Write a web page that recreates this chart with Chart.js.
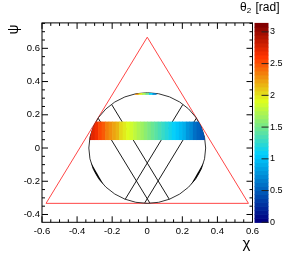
<!DOCTYPE html>
<html>
<head>
<meta charset="utf-8">
<script src="https://cdn.jsdelivr.net/npm/chart.js@4.4.1/dist/chart.umd.min.js"></script>
<style>
  html, body { margin: 0; padding: 0; background: #fff; }
  canvas { display: block; }
</style>
</head>
<body>
<canvas id="c" width="299" height="255"></canvas>
<script>
// axis ranges
const xRange = [-0.6, 0.6];
const yRange = [-0.447, 0.753];
const zRange = [0, 3.1416];

const xTicks = [-0.6, -0.4, -0.2, 0, 0.2, 0.4, 0.6];
const yTicks = [-0.4, -0.2, 0, 0.2, 0.4, 0.6];
const zTicks = [0, 0.5, 1, 1.5, 2, 2.5, 3];

// red triangle (closed)
const triX = [-0.577, 0.577, 0, -0.577];
const triY = [-0.333, -0.333, 0.667, -0.333];

// black chords inside the circle
const chordX0 = [-0.203, 0.203, -0.280, 0.280];
const chordY0 = [0.262, 0.262, 0.180, 0.180];
const chordX1 = [0.126, -0.126, 0.016, -0.016];
const chordY1 = [-0.309, -0.309, -0.333, -0.333];

const circleR = 0.333;

// theta2 band: column centres and values
const binW = 0.02;
const bandX = [-0.33, -0.31, -0.29, -0.27, -0.25, -0.23, -0.21, -0.19, -0.17, -0.15, -0.13, -0.11,
  -0.09, -0.07, -0.05, -0.03, -0.01, 0.01, 0.03, 0.05, 0.07, 0.09, 0.11, 0.13, 0.15, 0.17,
  0.19, 0.21, 0.23, 0.25, 0.27, 0.29, 0.31, 0.33];
const bandTheta = [2.85, 2.76, 2.66, 2.56, 2.47, 2.38, 2.30, 2.22, 2.14, 2.07, 2.00, 1.93,
  1.86, 1.80, 1.73, 1.67, 1.60, 1.54, 1.48, 1.42, 1.36, 1.29, 1.23, 1.16, 1.09, 1.02,
  0.95, 0.88, 0.80, 0.71, 0.62, 0.53, 0.45, 0.38];
const bandY = [0.048, 0.159];

// small strip at the top of the circle
const capX = [-0.06, -0.04, -0.02, 0, 0.02, 0.04];
const capTheta = [2.3, 2.0, 1.75, 1.45, 1.1, 0.75];
const capY = [0.32, 0.34];

// dark segments on the circle edge (degrees)
const darkFrom = [195, 318];
const darkTo = [222, 345];

// ROOT rainbow palette
const stops = [0, 0.34, 0.61, 0.84, 1];
const stR = [0, 0, 0.87, 1, 0.51];
const stG = [0, 0.81, 1, 0.2, 0];
const stB = [0.51, 1, 0.12, 0, 0];
const nCol = 50;
const palette = [];
for (let i = 0; i < nCol; i++) {
  const t = i / (nCol - 1);
  let k = 0;
  while (k < stops.length - 2 && t > stops[k + 1]) k++;
  const f = (t - stops[k]) / (stops[k + 1] - stops[k]);
  const c = a => Math.round(255 * (a[k] + f * (a[k + 1] - a[k])));
  palette.push(`rgb(${c(stR)},${c(stG)},${c(stB)})`);
}
function zColor(v) {
  const i = Math.floor((v - zRange[0]) / (zRange[1] - zRange[0]) * nCol);
  return palette[Math.max(0, Math.min(nCol - 1, i))];
}

const FONT = "'Liberation Sans', Arial, sans-serif";
const fmt = v => {
  const s = (Math.round(v * 10) / 10).toString();
  return s === "-0" ? "0" : s;
};

function circlePath(ctx, ch) {
  const x = ch.scales.x, y = ch.scales.y;
  const cx = x.getPixelForValue(0), cy = y.getPixelForValue(0);
  const rx = x.getPixelForValue(circleR) - cx, ry = cy - y.getPixelForValue(circleR);
  ctx.beginPath();
  ctx.ellipse(cx, cy, rx, ry, 0, 0, Math.PI * 2);
  return { cx, cy, rx, ry };
}

function drawCells(ctx, ch, xs, vals, yLoHi) {
  const x = ch.scales.x, y = ch.scales.y;
  const top = y.getPixelForValue(yLoHi[1]), bot = y.getPixelForValue(yLoHi[0]);
  xs.forEach((c, i) => {
    const x0 = x.getPixelForValue(c - binW / 2), x1 = x.getPixelForValue(c + binW / 2);
    ctx.fillStyle = zColor(vals[i]);
    ctx.fillRect(x0, top, x1 - x0 + 0.6, bot - top);
  });
}

const overlay = {
  id: "overlay",
  afterDatasetsDraw(ch) {
    const ctx = ch.ctx;
    const x = ch.scales.x, y = ch.scales.y, z = ch.scales.z;
    const a = ch.chartArea;

    // circle
    ctx.save();
    circlePath(ctx, ch);
    ctx.strokeStyle = "#333";
    ctx.lineWidth = 1;
    ctx.stroke();

    // dark segments
    const g = circlePath(ctx, ch);
    ctx.fillStyle = "#000";
    darkFrom.forEach((d0, i) => {
      const r0 = -d0 * Math.PI / 180, r1 = -darkTo[i] * Math.PI / 180;
      ctx.beginPath();
      ctx.ellipse(g.cx, g.cy, g.rx, g.ry, 0, r0, r1, true);
      ctx.closePath();
      ctx.fill();
    });

    // histogram cells clipped to the circle
    circlePath(ctx, ch);
    ctx.clip();
    drawCells(ctx, ch, bandX, bandTheta, bandY);
    drawCells(ctx, ch, capX, capTheta, capY);
    ctx.restore();

    // frame
    ctx.save();
    ctx.strokeStyle = "#000";
    ctx.lineWidth = 1;
    ctx.strokeRect(a.left, a.top, a.right - a.left, a.bottom - a.top);

    // inward ticks on all four sides
    ctx.beginPath();
    for (let i = 0; i < xTicks.length; i++) {
      for (let k = -3; k < 4; k++) {
        const v = xTicks[i] + k * 0.05;
        if (v < xRange[0] - 1e-6 || v > xRange[1] + 1e-6) continue;
        if (k !== 0 && Math.abs(k) > 0 && (k < 0 ? i > 0 : i < xTicks.length - 1) && k < 0) continue;
        const len = k === 0 ? 6 : 3;
        const px = x.getPixelForValue(v);
        ctx.moveTo(px, a.bottom); ctx.lineTo(px, a.bottom - len);
        ctx.moveTo(px, a.top); ctx.lineTo(px, a.top + len);
      }
    }
    for (let i = 0; i < yTicks.length; i++) {
      for (let k = -3; k < 4; k++) {
        const v = yTicks[i] + k * 0.05;
        if (v < yRange[0] - 1e-6 || v > yRange[1] + 1e-6) continue;
        if (k < 0 && i > 0) continue;
        const len = k === 0 ? 6 : 3;
        const py = y.getPixelForValue(v);
        ctx.moveTo(a.left, py); ctx.lineTo(a.left + len, py);
        ctx.moveTo(a.right, py); ctx.lineTo(a.right - len, py);
      }
    }
    ctx.stroke();

    // colour bar
    const pl = a.right + 2, pw = 14;
    for (let i = 0; i < nCol; i++) {
      const v0 = zRange[0] + i * (zRange[1] - zRange[0]) / nCol;
      const v1 = zRange[0] + (i + 1) * (zRange[1] - zRange[0]) / nCol;
      const y0 = z.getPixelForValue(v0), y1 = z.getPixelForValue(v1);
      ctx.fillStyle = palette[i];
      ctx.fillRect(pl, y1, pw, y0 - y1 + 0.6);
    }
    ctx.beginPath();
    zTicks.forEach(v => {
      const py = z.getPixelForValue(v);
      ctx.moveTo(pl + pw, py); ctx.lineTo(pl + pw - 7, py);
    });
    ctx.strokeStyle = "#222";
    ctx.stroke();

    // titles
    ctx.fillStyle = "#000";
    ctx.textBaseline = "alphabetic";
    ctx.font = `15px ${FONT}`;
    ctx.textAlign = "center";
    ctx.fillText("χ", 246.5, 248);

    ctx.save();
    ctx.translate(14, 29.5);
    ctx.rotate(-Math.PI / 2);
    ctx.font = `14px ${FONT}`;
    ctx.textBaseline = "middle";
    ctx.fillText("ψ", 0, 0);
    ctx.restore();

    ctx.textAlign = "left";
    let tx = 240;
    ctx.font = `12px ${FONT}`;
    ctx.fillText("θ", tx, 10.5);
    tx += ctx.measureText("θ").width;
    ctx.font = `8px ${FONT}`;
    ctx.fillText("2", tx, 13);
    tx += ctx.measureText("2").width + 1;
    ctx.font = `12px ${FONT}`;
    ctx.fillText(" [rad]", tx, 10.5);
    ctx.restore();
  }
};

const line = (xs, ys) => xs.map((v, i) => ({ x: v, y: ys[i] }));
const datasets = [{
  data: line(triX, triY),
  showLine: true, borderColor: "rgb(255,70,70)", borderWidth: 1, pointRadius: 0
}];
chordX0.forEach((v, i) => {
  datasets.push({
    data: [{ x: v, y: chordY0[i] }, { x: chordX1[i], y: chordY1[i] }],
    showLine: true, borderColor: "#1a1a1a", borderWidth: 1, pointRadius: 0
  });
});

const tickFont = { family: FONT, size: 9.5 };
new Chart(document.getElementById("c"), {
  type: "scatter",
  data: { datasets },
  options: {
    responsive: false,
    animation: false,
    devicePixelRatio: 1,
    layout: { padding: { top: 18.3, left: 0, right: 0, bottom: 0 } },
    plugins: { legend: { display: false }, tooltip: { enabled: false } },
    scales: {
      x: {
        type: "linear", min: xRange[0], max: xRange[1],
        grid: { display: false, drawTicks: false }, border: { display: false },
        ticks: { font: tickFont, color: "#000", padding: 3, maxRotation: 0, autoSkip: false, callback: fmt },
        afterBuildTicks: s => { s.ticks = xTicks.map(v => ({ value: v })); },
        afterFit: s => { s.height = 32.7; }
      },
      y: {
        type: "linear", position: "left", min: yRange[0], max: yRange[1],
        grid: { display: false, drawTicks: false }, border: { display: false },
        ticks: { font: tickFont, color: "#000", padding: 2, autoSkip: false, callback: fmt },
        afterBuildTicks: s => { s.ticks = yTicks.map(v => ({ value: v })); },
        afterFit: s => { s.width = 42; }
      },
      z: {
        type: "linear", axis: "y", position: "right", min: zRange[0], max: zRange[1],
        grid: { display: false, drawTicks: false }, border: { display: false },
        ticks: { font: { family: FONT, size: 9 }, color: "#000", padding: 17.5, autoSkip: false,
          callback: v => String(v) },
        afterBuildTicks: s => { s.ticks = zTicks.map(v => ({ value: v })); },
        afterFit: s => { s.width = 46.5; }
      }
    }
  },
  plugins: [overlay]
});
</script>
</body>
</html>
